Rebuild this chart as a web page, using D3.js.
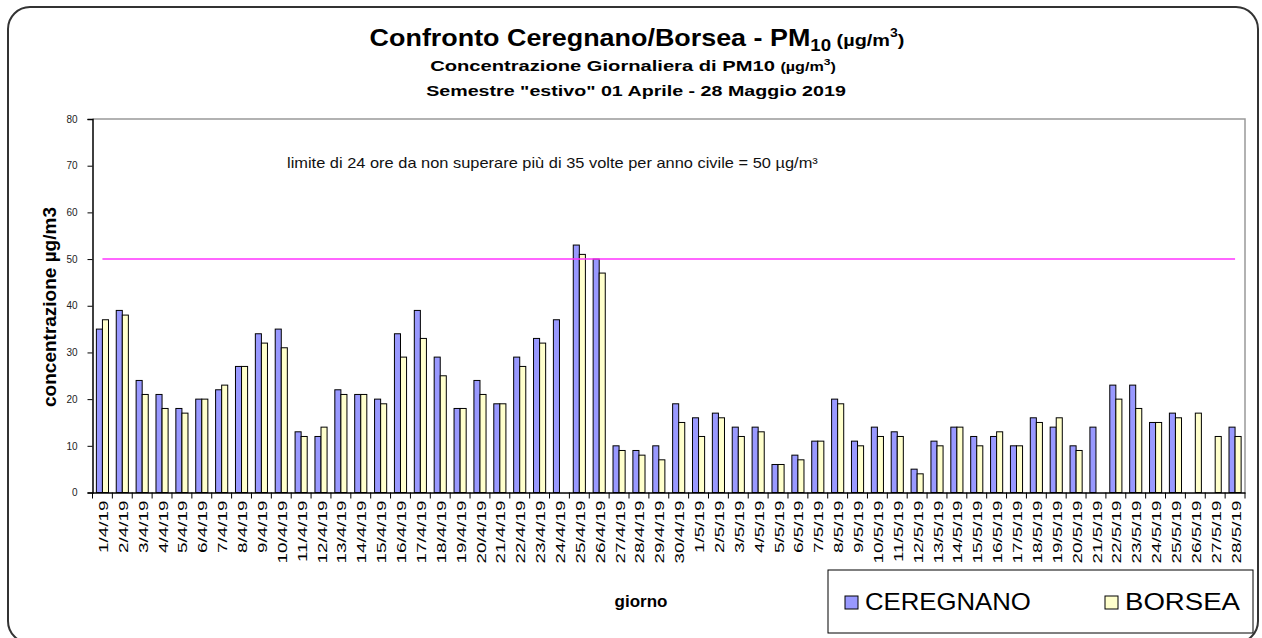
<!DOCTYPE html>
<html><head><meta charset="utf-8">
<script src="https://cdn.jsdelivr.net/npm/d3@7"></script>
<style>body{margin:0;background:#fff} svg{display:block} text{font-family:"Liberation Sans",Arial,sans-serif}</style>
</head><body><svg id="c" width="1262" height="638"></svg>
<script>
const days = ["1/4/19","2/4/19","3/4/19","4/4/19","5/4/19","6/4/19","7/4/19","8/4/19","9/4/19","10/4/19",
"11/4/19","12/4/19","13/4/19","14/4/19","15/4/19","16/4/19","17/4/19","18/4/19","19/4/19","20/4/19",
"21/4/19","22/4/19","23/4/19","24/4/19","25/4/19","26/4/19","27/4/19","28/4/19","29/4/19","30/4/19",
"1/5/19","2/5/19","3/5/19","4/5/19","5/5/19","6/5/19","7/5/19","8/5/19","9/5/19","10/5/19",
"11/5/19","12/5/19","13/5/19","14/5/19","15/5/19","16/5/19","17/5/19","18/5/19","19/5/19","20/5/19",
"21/5/19","22/5/19","23/5/19","24/5/19","25/5/19","26/5/19","27/5/19","28/5/19"];
const ceregnano = [35,39,24,21,18,20,22,27,34,35, 13,12,22,21,20,34,39,29,18,24, 19,29,33,37,53,50,10,9,10,19,
16,17,14,14,6,8,11,20,11,14, 13,5,11,14,12,12,10,16,14,10, 14,23,23,15,17,null,null,14];
const borsea = [37,38,21,18,17,20,23,27,32,31, 12,14,21,21,19,29,33,25,18,21, 19,27,32,null,51,47,9,8,7,15,
12,16,12,13,6,7,11,19,10,12, 12,4,10,14,10,13,10,15,16,9, null,20,18,15,16,17,12,12];
const seriesNames = ["CEREGNANO","BORSEA"];
const seriesColors = ["#9999FF","#FFFFCC"];
const yTicks = [0,10,20,30,40,50,60,70,80];
const limitValue = 50;

const svg = d3.select("#c");
const L = 92.5, R = 1245, T = 119, B = 492.5;
const x = d3.scaleBand().domain(days).range([L, R]).padding(0);
const y = d3.scaleLinear().domain([0, 80]).range([B, T]);

// stretch a text horizontally to a target width, anchored at (ax) with given anchor
function fit(sel, ax, ay, target, anchor) {
  const w = sel.node().getComputedTextLength();
  const k = target / w;
  sel.attr("x", 0).attr("y", 0).attr("text-anchor", anchor)
     .attr("transform", `translate(${ax},${ay}) scale(${k},1)`);
}

// outer border
svg.append("rect").attr("x",8).attr("y",7).attr("width",1250).attr("height",636).attr("rx",22)
  .attr("fill","none").attr("stroke","#333").attr("stroke-width",2);

// titles
const t1 = svg.append("text").attr("font-weight","bold").attr("font-size",23);
t1.append("tspan").text("Confronto Ceregnano/Borsea - PM");
t1.append("tspan").attr("font-size",16).attr("dy",5).text("10");
t1.append("tspan").attr("font-size",17).attr("dy",-5).text(" (µg/m");
t1.append("tspan").attr("font-size",12).attr("dy",-9).text("3");
t1.append("tspan").attr("font-size",17).attr("dy",9).text(")");
fit(t1, 637, 46, 535, "middle");

const t2 = svg.append("text").attr("font-weight","bold").attr("font-size",15);
t2.append("tspan").text("Concentrazione Giornaliera di PM10 ");
t2.append("tspan").attr("font-size",12).text("(µg/m");
t2.append("tspan").attr("font-size",9).attr("dy",-6).text("3");
t2.append("tspan").attr("font-size",12).attr("dy",6).text(")");
fit(t2, 633, 71, 406, "middle");

const t3 = svg.append("text").attr("font-weight","bold").attr("font-size",15)
  .text('Semestre "estivo" 01 Aprile - 28 Maggio 2019');
fit(t3, 636, 96, 420, "middle");

// plot border (top/right gray)
svg.append("path").attr("d",`M${L},${T}H${R}V${B}`).attr("fill","none").attr("stroke","#999").attr("stroke-width",1.5);

// bars
const bw = x.bandwidth()*0.305;
const off = (x.bandwidth() - 2*bw)/2;
[ceregnano, borsea].forEach((vals, si) => {
  svg.append("g").selectAll("rect").data(days.map((d,i)=>({d, v: vals[i]})).filter(o=>o.v!=null))
    .join("rect")
    .attr("x", o => x(o.d) + off + si*bw)
    .attr("y", o => y(o.v))
    .attr("width", bw)
    .attr("height", o => y(0) - y(o.v))
    .attr("fill", seriesColors[si]).attr("stroke","#000").attr("stroke-width",1);
});

// limit line
const line = d3.line().x(d => x(d) + x.bandwidth()/2).y(() => y(limitValue));
svg.append("path").datum(days).attr("d", line).attr("fill","none").attr("stroke","#FF33FF").attr("stroke-width",1.5);

const lt = svg.append("text").attr("font-size",14).attr("fill","#111")
  .text("limite di 24 ore da non superare più di 35 volte per anno civile = 50 µg/m³");
fit(lt, 287, 168, 531, "start");

// y axis
const ya = svg.append("g").attr("transform",`translate(${L},0)`)
  .call(d3.axisLeft(y).tickValues(yTicks).tickSize(5).tickPadding(10));
ya.select(".domain").attr("stroke","#000").attr("stroke-width",1.5);
ya.selectAll(".tick line").attr("stroke","#000");
ya.selectAll(".tick text").attr("font-size",10).attr("fill","#222").style("font-family","Liberation Sans, Arial");

// x axis
const xa = svg.append("g").attr("transform",`translate(0,${B})`)
  .call(d3.axisBottom(x).tickSize(0).tickFormat(""));
xa.select(".domain").attr("stroke","#000").attr("stroke-width",1.5);
xa.selectAll(".tick").remove();
svg.append("g").selectAll("line").data(days.concat(["__end"])).join("line")
  .attr("x1",(d,i)=> i<days.length ? x(d) : R).attr("x2",(d,i)=> i<days.length ? x(d) : R)
  .attr("y1",B).attr("y2",B+6).attr("stroke","#000");

svg.append("g").selectAll("text").data(days).join("text")
  .attr("transform", d => `translate(${x(d)+x.bandwidth()/2+1},${B+8}) rotate(-90) scale(1.45,1)`)
  .attr("text-anchor","end").attr("dy","0.35em").attr("font-size",13).attr("fill","#000")
  .text(d => d);

// axis titles
svg.append("text").attr("transform","translate(56,307) rotate(-90)").attr("text-anchor","middle")
  .attr("font-weight","bold").attr("font-size",19).text("concentrazione µg/m3");
svg.append("text").attr("x",641).attr("y",607).attr("text-anchor","middle")
  .attr("font-weight","bold").attr("font-size",17).text("giorno");

// legend
const lg = svg.append("g");
lg.append("rect").attr("x",828).attr("y",570).attr("width",425).attr("height",63)
  .attr("fill","#fff").attr("stroke","#000").attr("stroke-width",1);
const lx = [845, 1105];
const lw = [166, 115];
seriesNames.forEach((n,i) => {
  lg.append("rect").attr("x",lx[i]).attr("y",596).attr("width",13).attr("height",13)
    .attr("fill",seriesColors[i]).attr("stroke","#000");
  const tx = lg.append("text").attr("font-size",24).text(n);
  fit(tx, lx[i]+20, 610, lw[i], "start");
});
</script></body></html>
